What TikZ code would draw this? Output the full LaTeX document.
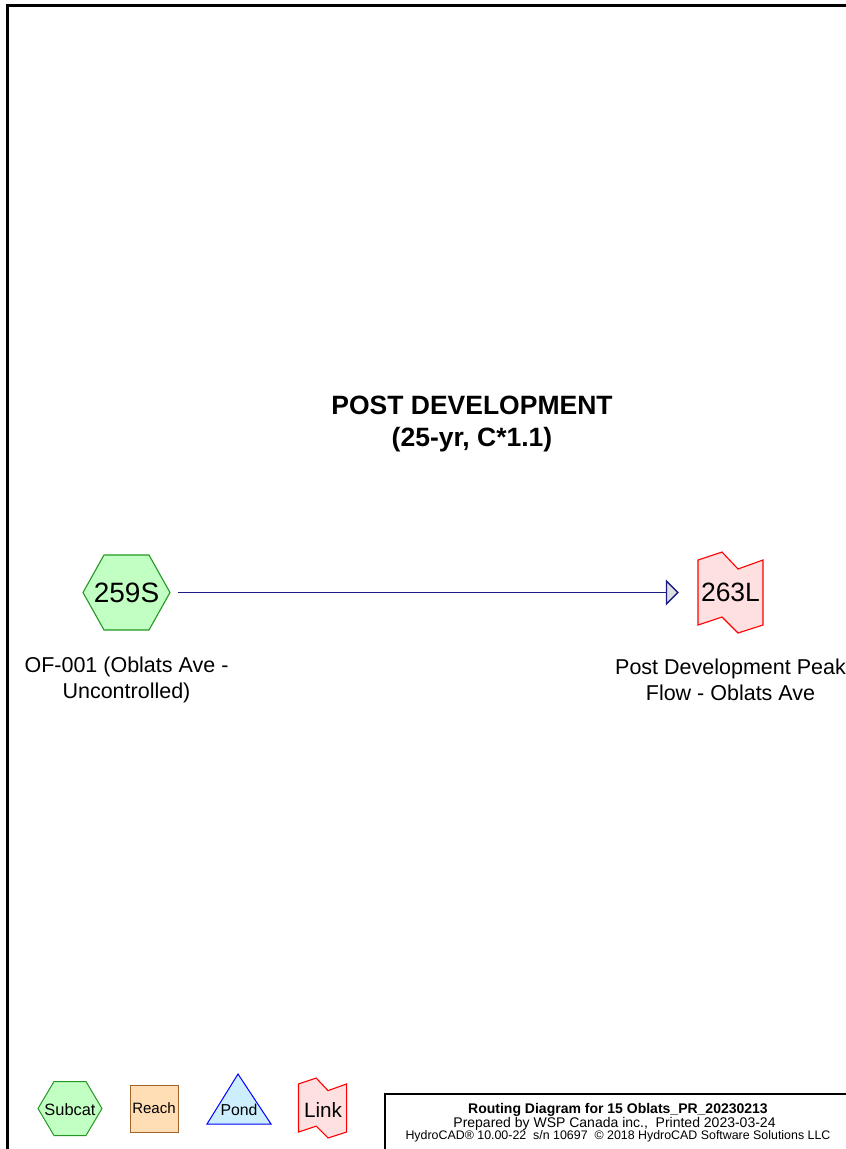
\documentclass[tikz,border=0pt]{standalone}
\usepackage{fontspec}
\setmainfont{Liberation Sans}
\usetikzlibrary{positioning, arrows.meta}
\definecolor{subfill}{HTML}{C2FFC2}
\definecolor{subline}{HTML}{229922}
\definecolor{linkfill}{HTML}{FFE0E0}
\definecolor{linkline}{HTML}{FF0000}
\definecolor{reachfill}{HTML}{FFDDB5}
\definecolor{reachline}{HTML}{A0632A}
\definecolor{pondfill}{HTML}{CCEEFF}
\definecolor{pondline}{HTML}{0000FF}
\definecolor{routeline}{HTML}{1C1C88}

\begin{document}
\begin{tikzpicture}[x=1pt, y=-1pt,
  >={Triangle[length=13pt, width=26pt, fill=black!12]},
  hexs/.style={draw=subline, fill=subfill, line width=1.1pt},
  lnk/.style={draw=linkline, fill=linkfill, line width=1.1pt},
  lab/.style={font=\fontsize{21.5}{26}\selectfont, align=center},
  route/.style={->, draw=routeline, line width=1.4pt},
  ttl/.style={inner sep=0pt, anchor=base}]
\useasboundingbox (0,0) rectangle (846,1149);
% Drawing frame and title block, both run off the page.
\draw[line width=3pt] (7,1160) |- (860,5);
\draw[line width=2.5pt] (385,1160) |- (860,1094);
% Heading.
\node[font=\fontsize{26.5}{32}\selectfont\bfseries, align=center] (heading) at (472,424)
  {POST DEVELOPMENT\\(25-yr, C*1.1)};
% Subcatchment routed to the link.
\path[hexs, shift={(126.5,592.5)}] (-43.5,0) -- (-22.5,-37.5) -- (22.5,-37.5) -- (43.5,0)
  -- (22.5,37.5) -- (-22.5,37.5) -- cycle;
\node[minimum width=87pt, minimum height=75pt, inner sep=0pt,
      font=\fontsize{28}{30}\selectfont] (s259) at (126.5,592.5) {259S};
\path[lnk, shift={(730.5,592.5)}] (-32.5,-32.5) -- (-8.5,-40.5) -- (7.5,-23.5) -- (32.5,-32.5)
  -- (32.5,32.5) -- (7.5,40.5) -- (-8.5,24.5) -- (-32.5,32.5) -- cycle;
\node[minimum width=65pt, minimum height=65pt, inner sep=0pt,
      font=\fontsize{26.5}{30}\selectfont] (l263) at (730.5,592.5) {263L};
\draw[route, shorten <=8pt, shorten >=19pt] (s259.east) -- (l263.west);
\node[lab] (s259lab) at (126.5,680) {OF-001 (Oblats Ave -\\Uncontrolled)};
\node[lab] (l263lab) at (730.5,680) {Post Development Peak\\Flow - Oblats Ave};
% Legend.
\path[hexs, line width=1pt, shift={(70,1108.5)}] (-32,0) -- (-16,-27) -- (16,-27) -- (32,0)
  -- (16,27) -- (-16,27) -- cycle;
\node[font=\fontsize{16.4}{18}\selectfont, inner sep=0pt] (legsub) at (70,1110) {Subcat};
\node[draw=reachline, fill=reachfill, line width=1pt, minimum width=48pt, minimum height=47pt,
      inner sep=0pt, font=\fontsize{15}{17}\selectfont] (legreach) at (154,1108.5) {Reach};
\path[draw=pondline, fill=pondfill, line width=1pt] (238,1074) -- (271,1124) -- (207,1124) -- cycle;
\node[font=\fontsize{15.8}{18}\selectfont, inner sep=0pt] (legpond) at (239,1110) {Pond};
\path[lnk, shift={(322.5,1108)}, scale=.74] (-32.5,-32.5) -- (-8.5,-40.5) -- (7.5,-23.5) -- (32.5,-32.5)
  -- (32.5,32.5) -- (7.5,40.5) -- (-8.5,24.5) -- (-32.5,32.5) -- cycle;
\node[font=\fontsize{20.7}{22}\selectfont, inner sep=0pt] (leglink) at (323,1110) {Link};
% Title block text.
\node[ttl, font=\fontsize{14}{16}\selectfont\bfseries] (blk1) at (618,1113)
  {Routing Diagram for 15 Oblats\_PR\_20230213};
\node[ttl, font=\fontsize{14}{16}\selectfont] (blk2) at (614.5,1127)
  {Prepared by WSP Canada inc.,\ \ Printed 2023-03-24};
\node[ttl, font=\fontsize{12.4}{14}\selectfont] (blk3) at (618,1139.5)
  {HydroCAD® 10.00-22\ \ s/n 10697\ \ © 2018 HydroCAD Software Solutions LLC};
\end{tikzpicture}
\end{document}
